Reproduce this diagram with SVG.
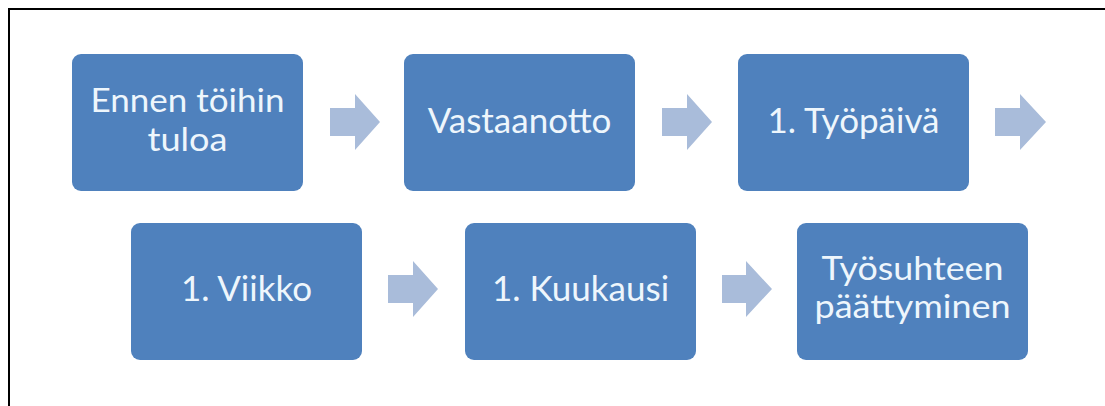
<svg xmlns="http://www.w3.org/2000/svg" width="1105" height="406" viewBox="0 0 1105 406">
<style>
.box{fill:#4F81BD;}
.lbl{font-family:Lato,"Open Sans","Liberation Sans",sans-serif;font-size:35px;fill:#EEF6FC;text-anchor:middle;}
.two{font-size:33px;}
.arr{fill:#A9BCDA;}
.frame{stroke:#000;stroke-width:2;fill:none;}
</style>
<rect width="1105" height="406" fill="#fff"/>
<path class="frame" d="M9,406 V9 H1105"/>
<g id="n1"><rect class="box" x="72" y="54" width="231" height="137" rx="9"/><text class="lbl two" x="187.5" y="112" textLength="194" lengthAdjust="spacingAndGlyphs">Ennen töihin</text><text class="lbl two" x="187.5" y="151" textLength="80" lengthAdjust="spacingAndGlyphs">tuloa</text></g>
<g id="n2"><rect class="box" x="404" y="54" width="231" height="137" rx="9"/><text class="lbl" x="519.5" y="133">Vastaanotto</text></g>
<g id="n3"><rect class="box" x="738" y="54" width="231" height="137" rx="9"/><text class="lbl" x="853.5" y="133">1. Työpäivä</text></g>
<g id="n4"><rect class="box" x="131" y="223" width="231" height="137" rx="9"/><text class="lbl" x="246.5" y="301">1. Viikko</text></g>
<g id="n5"><rect class="box" x="465" y="223" width="231" height="137" rx="9"/><text class="lbl" x="580.5" y="301">1. Kuukausi</text></g>
<g id="n6"><rect class="box" x="797" y="223" width="231" height="137" rx="9"/><text class="lbl two" x="912.5" y="280" textLength="182" lengthAdjust="spacingAndGlyphs">Työsuhteen</text><text class="lbl two" x="912.5" y="318" textLength="196" lengthAdjust="spacingAndGlyphs">päättyminen</text></g>
<g id="connectors">
<path class="arr" d="M330,108 H355 V94 L380,122 L355,150 V136 H330 Z"/>
<path class="arr" d="M662,108 H687 V94 L712,122 L687,150 V136 H662 Z"/>
<path class="arr" d="M995,108 H1020 V94 L1046,122 L1020,150 V136 H995 Z"/>
<path class="arr" d="M388,275 H413 V261 L438,289 L413,317 V303 H388 Z"/>
<path class="arr" d="M722,275 H746 V261 L772,289 L746,317 V303 H722 Z"/>
</g>
</svg>
